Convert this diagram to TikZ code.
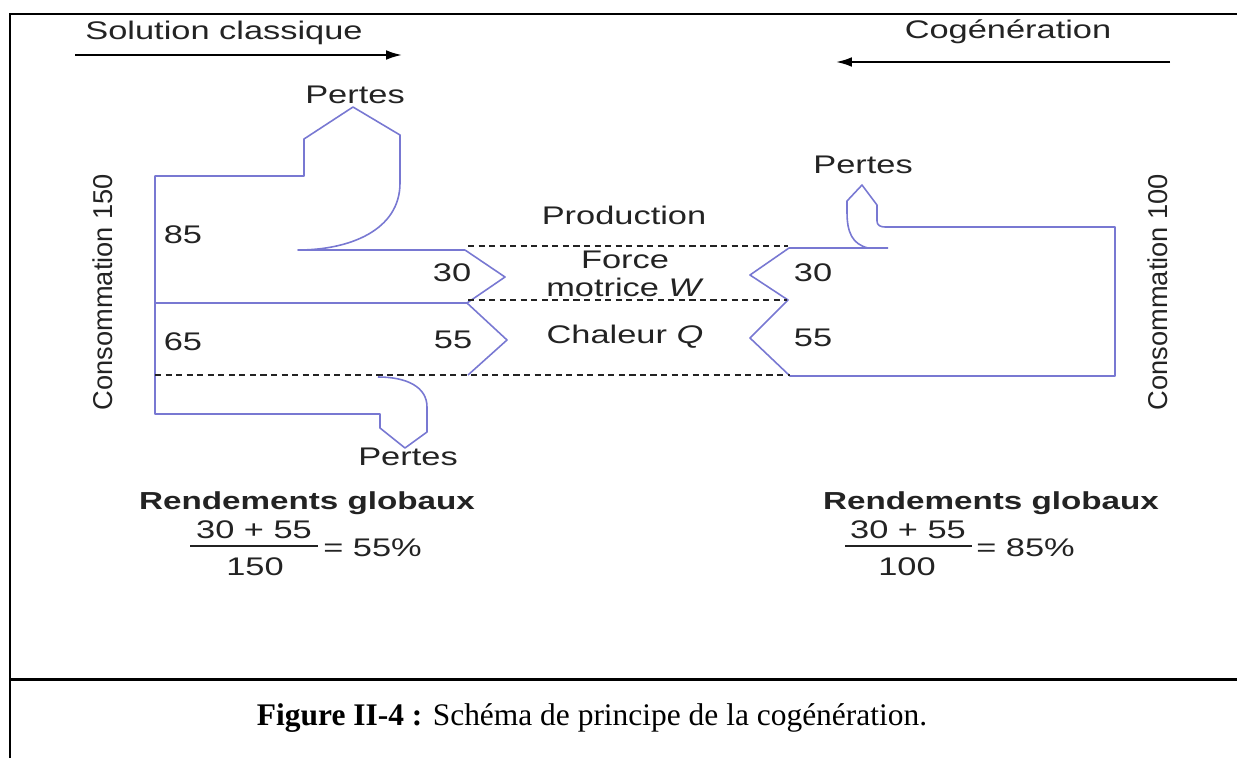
\documentclass[tikz,border=0pt]{standalone}
\usepackage{fontspec}
\usepackage{tikz}
\usetikzlibrary{positioning}
\usetikzlibrary{arrows,arrows.meta}
\newfontfamily\widesans{Liberation Sans}[FakeStretch=1.35]
\newfontfamily\plainsans{Liberation Sans}
\newfontfamily\capserif{Liberation Serif}
\definecolor{flowblue}{RGB}{120,120,210}
\definecolor{ink}{RGB}{35,35,35}
\tikzset{
  flow/.style={draw=flowblue, line width=0.9pt, line join=round},
  divider/.style={draw=ink, line width=0.7pt, dash pattern=on 3.5pt off 2.5pt},
  lbl/.style={font=\widesans\fontsize{14.5}{16}\selectfont, text=ink, inner sep=0pt},
  vlbl/.style={font=\plainsans\fontsize{15.5}{17}\selectfont, text=ink, inner sep=0pt, rotate=90},
  frame/.style={line width=1.7pt},
  sens/.style={-{Latex[length=9pt,width=5.5pt]}, line width=1.1pt}
}

\begin{document}
\begin{tikzpicture}[x=0.02cm,y=-0.02cm]
     \useasboundingbox (0,0) rectangle (1237,758);
     % cadre
     \draw[frame] (10,758) -- (10,14) -- (1237,14);
     \draw[frame] (10,679) -- (1237,679);
     % sens de lecture
     \node[lbl] (solclass) at (224,33) {Solution classique};
     \node[lbl] (cogen) at (1008,32) {Cogénération};
     \coordinate (solstart) at (75,55);
     \coordinate (solend) at (402,55);
     \coordinate (cogstart) at (1170,62);
     \coordinate (cogend) at (836,62);
     \draw[sens] (solstart) -- (solend);
     \draw[sens] (cogstart) -- (cogend);
     % solution classique
     \draw[flow] (465,250) -- (298,250) .. controls (350,250) and (400,230) .. (400,183) -- (400,135) -- (353,107) -- (304,139) -- (304,176) -- (155,176) -- (155,414) -- (380,414) -- (380,428) -- (405,448) -- (427,432) -- (427,407) .. controls (427,387) and (407,377) .. (378,377);
     \draw[flow] (155,303) -- (467,303);
     \draw[flow] (465,250) -- (505,277) -- (467,303) -- (507,340) -- (468,375);
     % cogeneration
     \draw[flow] (868,248) .. controls (852,244) and (847,232) .. (847,212) -- (847,201) -- (862,185) -- (877,205) -- (877,221) .. controls (877,225) and (880,227) .. (885,227) -- (1115,227) -- (1115,376) -- (790,376) -- (750,338) -- (788,300) -- (750,275) -- (789,248) -- (888,248);
     % production
     \draw[divider] (468,246) -- (788,246);
     \draw[divider] (468,300) -- (787,300);
     \draw[divider] (155,375) -- (790,375);
     \node[lbl] (pertA) at (355,95) {Pertes};
     \node[lbl] (pertB) at (408,457) {Pertes};
     \node[lbl] (pertC) at (863,165) {Pertes};
     \node[lbl] (in85) at (183,235) {85};
     \node[lbl] (in65) at (183,342) {65};
     \node[lbl] (outW) at (452,273) {30};
     \node[lbl] (outQ) at (453,340) {55};
     \node[lbl] (cogW) at (813,273) {30};
     \node[lbl] (cogQ) at (813,338) {55};
     \node[lbl] (prod) at (624,215) {Production};
     \node[lbl] (force) at (625,260) {Force};
     \node[lbl] (motrice) at (625,287) {motrice \textit{W}};
     \node[lbl] (chaleur) at (625,337) {Chaleur \textit{Q}};
     \node[vlbl] (consA) at (103,292) {Consommation 150};
     \node[vlbl] (consB) at (1158,292) {Consommation 100};
     % rendements
     \node[lbl, font=\widesans\bfseries\fontsize{14}{16}\selectfont] (rendA) at (307,503) {Rendements globaux};
     \node[lbl] (numA) at (254,530) {30 + 55};
     \node[lbl] (denA) at (255,567) {150};
     \draw[ink, line width=1.1pt] (190,546) -- (318,546);
     \node[lbl, anchor=west] (effA) at (323,548) {= 55\%};
     \node[lbl, font=\widesans\bfseries\fontsize{14}{16}\selectfont] (rendB) at (991,503) {Rendements globaux};
     \node[lbl] (numB) at (908,530) {30 + 55};
     \node[lbl] (denB) at (907,567) {100};
     \draw[ink, line width=1.1pt] (845,546) -- (972,546);
     \node[lbl, anchor=west] (effB) at (976,548) {= 85\%};
     % legende
     \node[font=\capserif\fontsize{17.9}{20}\selectfont] (legende) at (592,718) {\textbf{Figure II-4 :} Schéma de principe de la cogénération.};
\end{tikzpicture}
\end{document}
